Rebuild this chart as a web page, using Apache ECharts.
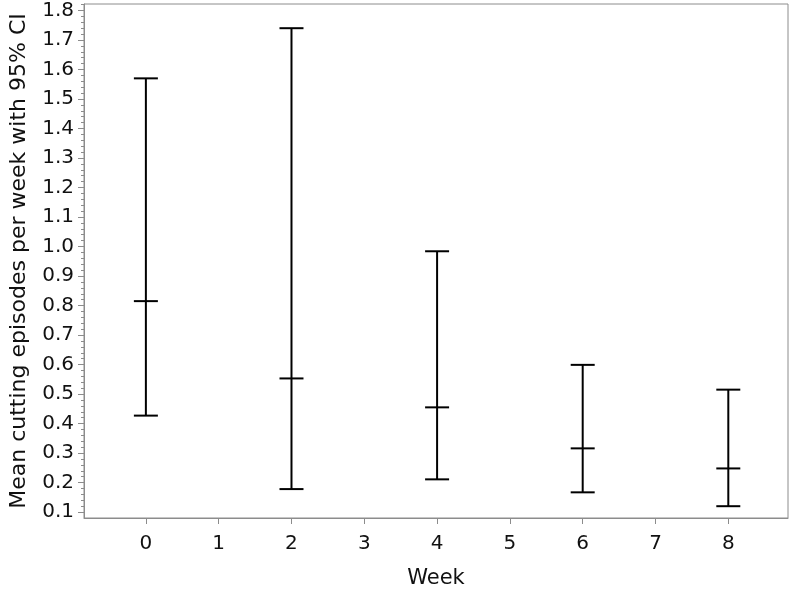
<!DOCTYPE html>
<html>
<head>
<meta charset="utf-8">
<script src="https://cdn.jsdelivr.net/npm/echarts@6/dist/echarts.min.js"></script>
<style>
  html, body { margin: 0; padding: 0; background: #fff; }
  #chart { width: 792px; height: 594px; }
</style>
</head>
<body>
<div id="chart"></div>
<script>
// week numbers with an error bar
const weeks = [0, 2, 4, 6, 8];
const means = [0.815, 0.553, 0.455, 0.316, 0.248];
const lower = [0.427, 0.178, 0.211, 0.167, 0.12];
const upper = [1.57, 1.74, 0.984, 0.599, 0.515];

const xTicks = [0, 1, 2, 3, 4, 5, 6, 7, 8];
const yTicks = [0.1, 0.2, 0.3, 0.4, 0.5, 0.6, 0.7, 0.8, 0.9, 1.0,
  1.1, 1.2, 1.3, 1.4, 1.5, 1.6, 1.7, 1.8];
const yMinor = [];
for (let i = 5; i <= 91; i++) {
  if (i % 5 !== 0) yMinor.push(i / 50);
}

const font = '"DejaVu Sans", sans-serif';
const axisGrey = '#8c8c8c';

const chart = echarts.init(document.getElementById('chart'));

chart.setOption({
  animation: false,
  grid: {
    left: 82, right: 4, top: 4, bottom: 74,
    show: true, borderColor: axisGrey, borderWidth: 1
  },
  xAxis: {
    type: 'value',
    min: -0.85,
    max: 8.82,
    name: 'Week',
    nameLocation: 'middle',
    nameGap: 50,
    nameTextStyle: { fontFamily: font, fontSize: 21, color: '#111' },
    splitLine: { show: false },
    axisLine: { onZero: false, lineStyle: { color: axisGrey } },
    axisTick: { customValues: xTicks, length: 6, lineStyle: { color: axisGrey } },
    axisLabel: {
      customValues: xTicks, margin: 16,
      fontFamily: font, fontSize: 20, color: '#111'
    }
  },
  yAxis: [
    {
      type: 'value',
      min: 0.08,
      max: 1.822,
      name: 'Mean cutting episodes per week with 95% CI',
      nameLocation: 'middle',
      nameGap: 54,
      nameTextStyle: { fontFamily: font, fontSize: 22, color: '#111' },
      splitLine: { show: false },
      axisLine: { show: true, onZero: false, lineStyle: { color: axisGrey } },
      axisTick: { show: true, customValues: yTicks, length: 6, lineStyle: { color: axisGrey } },
      axisLabel: {
        customValues: yTicks, margin: 10,
        fontFamily: font, fontSize: 20, color: '#111',
        formatter: v => v.toFixed(1)
      }
    },
    {
      type: 'value',
      position: 'left',
      min: 0.08,
      max: 1.822,
      splitLine: { show: false },
      axisLine: { show: false, onZero: false },
      axisTick: { show: true, customValues: yMinor, length: 3, lineStyle: { color: axisGrey } },
      axisLabel: { show: false }
    }
  ],
  series: [{
    type: 'custom',
    data: weeks.map((w, i) => [w, lower[i], means[i], upper[i]]),
    renderItem: (params, api) => {
      const lo = api.coord([api.value(0), api.value(1)]);
      const mid = api.coord([api.value(0), api.value(2)]);
      const hi = api.coord([api.value(0), api.value(3)]);
      const hw = 12;
      const style = { stroke: '#000', lineWidth: 2 };
      return {
        type: 'group',
        children: [
          { type: 'line', shape: { x1: lo[0], y1: lo[1], x2: hi[0], y2: hi[1] }, style },
          { type: 'line', shape: { x1: lo[0] - hw, y1: lo[1], x2: lo[0] + hw, y2: lo[1] }, style },
          { type: 'line', shape: { x1: mid[0] - hw, y1: mid[1], x2: mid[0] + hw, y2: mid[1] }, style },
          { type: 'line', shape: { x1: hi[0] - hw, y1: hi[1], x2: hi[0] + hw, y2: hi[1] }, style }
        ]
      };
    }
  }]
});
</script>
</body>
</html>
